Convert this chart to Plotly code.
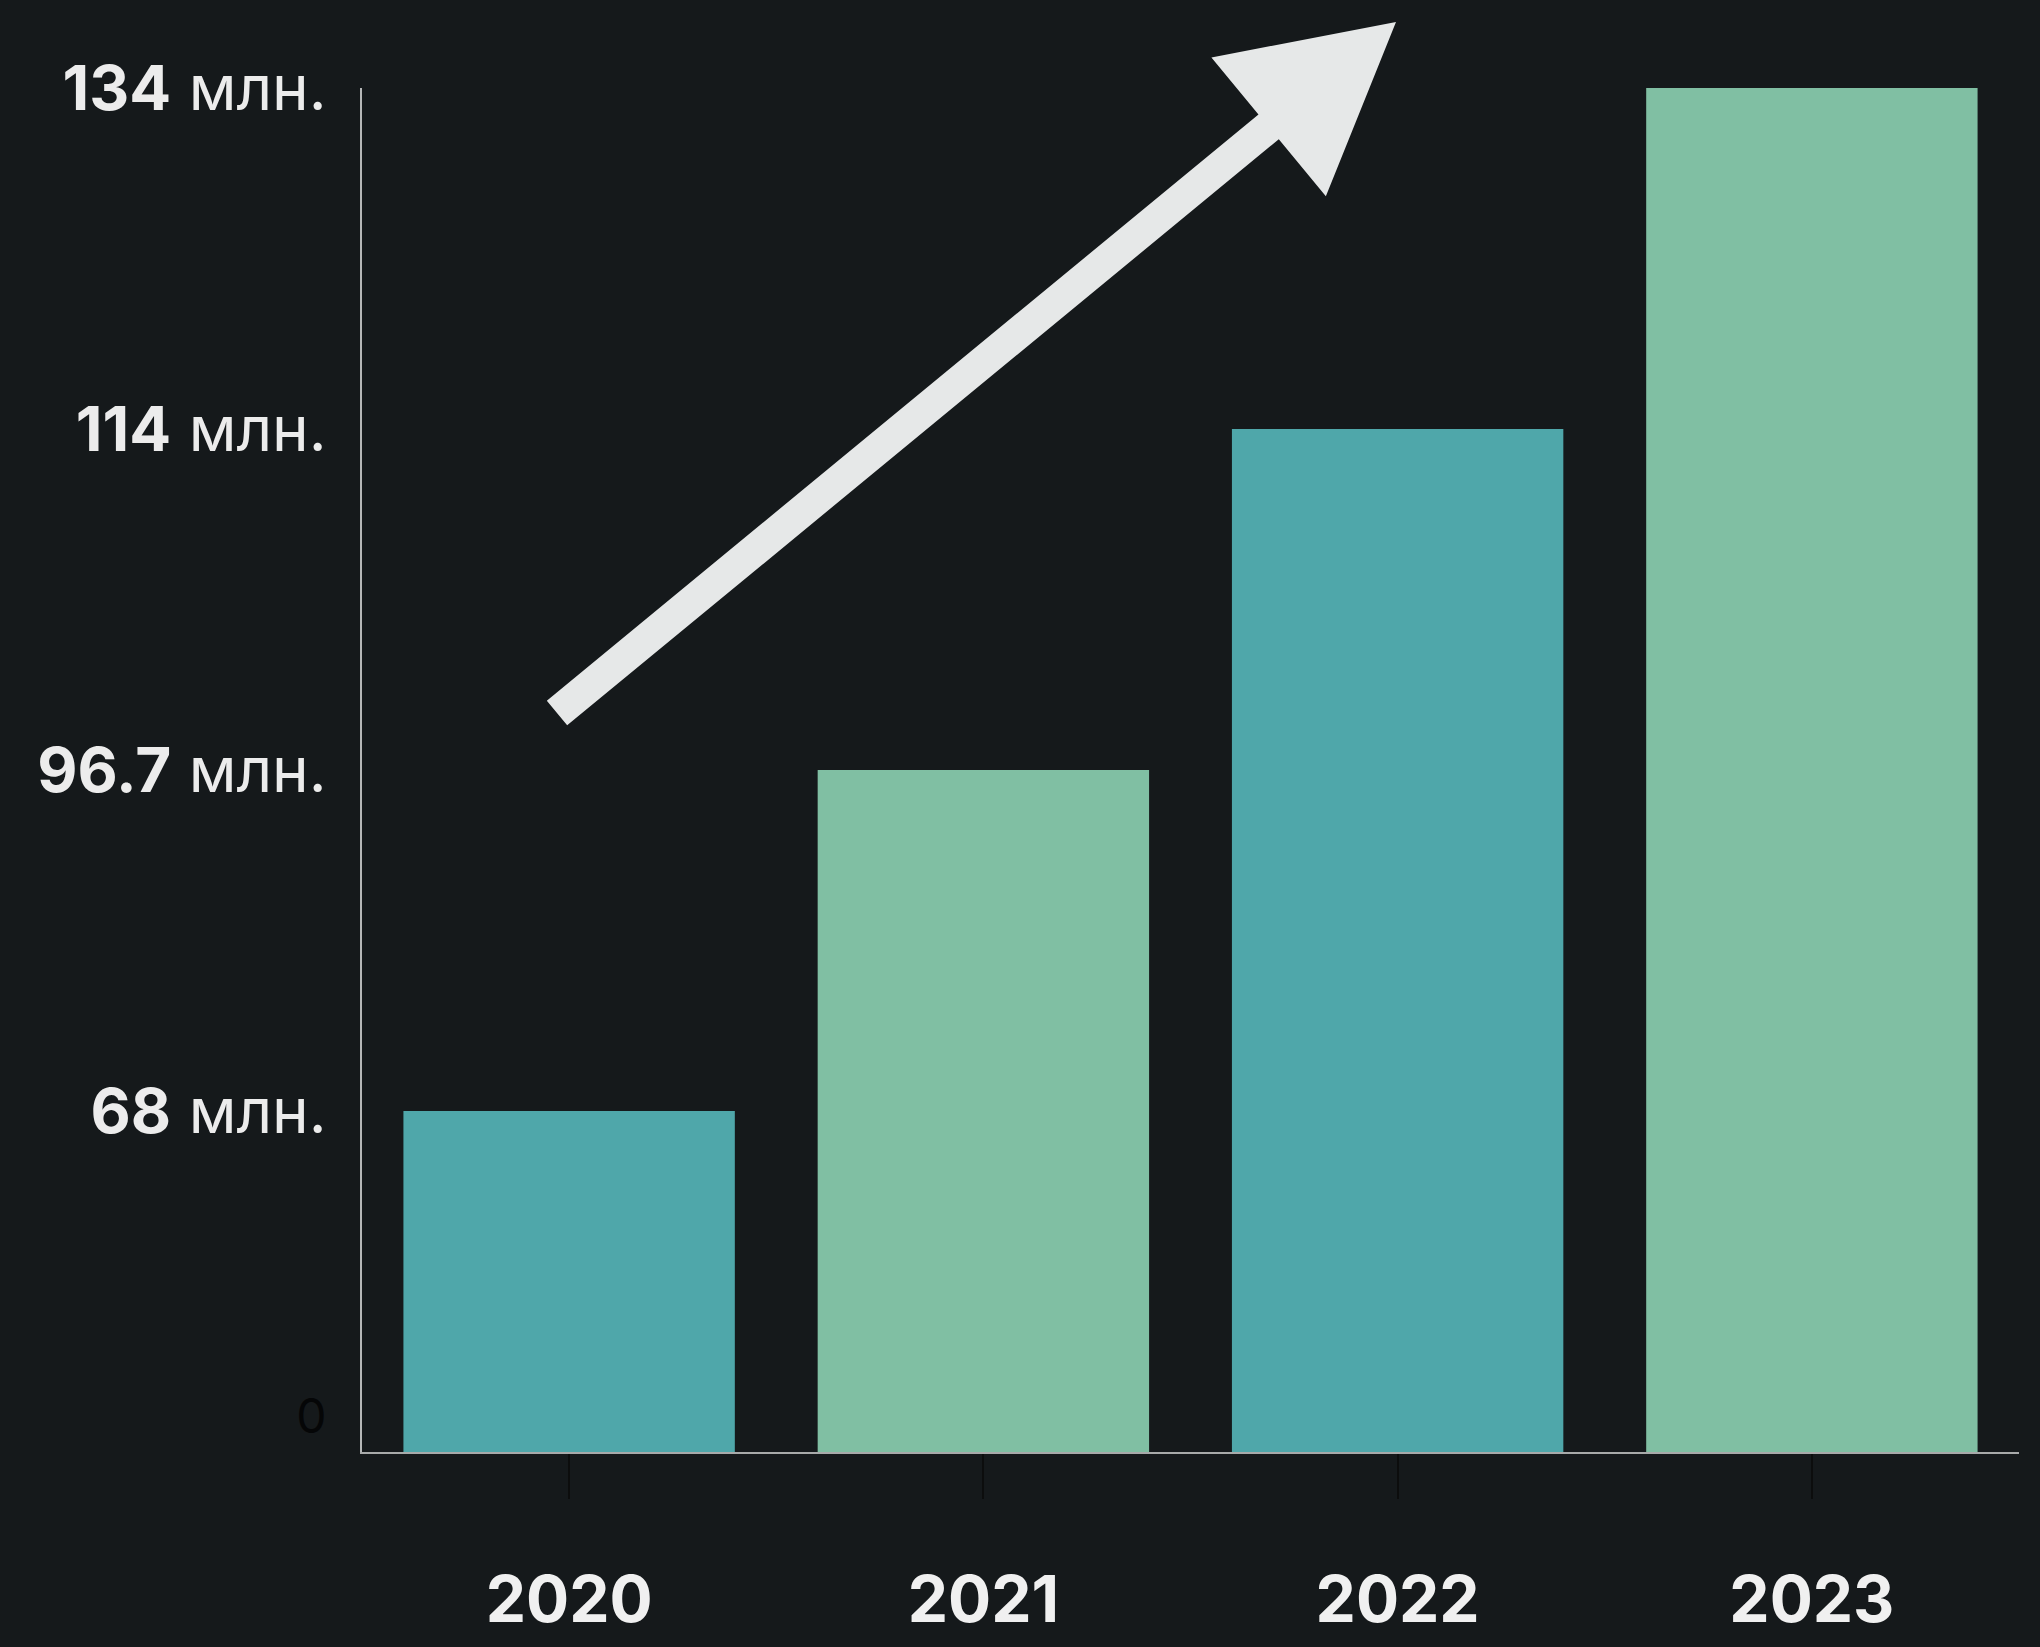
import math
import plotly.graph_objects as go

# ---- data ----
years = ["2020", "2021", "2022", "2023"]
values_mln = [68, 96.7, 114, 134]
bar_colors = ["#4fa7aa", "#80bfa3", "#4fa7aa", "#80bfa3"]
y_levels = ["0", "68", "96.7", "114", "134"]
y_ticktext = [
    "<span style='font-size:48px;color:#050607'>0</span><br><span style='font-size:22px;color:#15191b'>&nbsp;</span>",
    "<b>68</b> млн.",
    "<b>96.7</b> млн.",
    "<b>114</b> млн.",
    "<b>134</b> млн.",
]

W, H = 2040, 1647
ML, MR, MT, MB = 362, 21, 88, 195
PW, PH = W - ML - MR, H - MT - MB

y_cat = [f"{v:g}" for v in values_mln]

fig = go.Figure()
fig.add_trace(go.Bar(
    x=years, y=y_cat,
    marker=dict(color=bar_colors, line=dict(width=0)),
    width=0.8,
))

# arrow polygon (decoration) in pixel space -> paper
def to_paper(px, py):
    return ((px - ML) / PW, (H - MB - py) / PH)

tip = (1396, 22)
tail = (557, 713)
dx, dy = tip[0] - tail[0], tip[1] - tail[1]
d = math.hypot(dx, dy)
ux, uy = dx / d, dy / d
nx, ny = -uy, ux
L, HW, w = 165, 90, 16
bx, by = tip[0] - L * ux, tip[1] - L * uy
pts = [
    (tail[0] + w * nx, tail[1] + w * ny),
    (bx + w * nx, by + w * ny),
    (bx + HW * nx, by + HW * ny),
    tip,
    (bx - HW * nx, by - HW * ny),
    (bx - w * nx, by - w * ny),
    (tail[0] - w * nx, tail[1] - w * ny),
]
pp = [to_paper(*p) for p in pts]
path = "M " + " L ".join(f"{x:.5f},{y:.5f}" for x, y in pp) + " Z"
fig.add_shape(type="path", path=path, xref="paper", yref="paper",
              fillcolor="#e6e8e8", line=dict(width=0), layer="above")

fig.update_layout(
    width=W, height=H,
    margin=dict(l=ML, r=MR, t=MT, b=MB, pad=0, autoexpand=False),
    paper_bgcolor="#15191b",
    plot_bgcolor="#15191b",
    showlegend=False,
    bargap=0.2,
    font=dict(family="Inter, Liberation Sans, sans-serif", color="#ececec"),
    xaxis=dict(
        type="category",
        automargin=False,
        showgrid=False, zeroline=False,
        showline=True, linecolor="#a8aaaa", linewidth=2,
        ticks="outside", ticklen=45, tickwidth=2, tickcolor="#0c0d0d",
        tickfont=dict(size=64, color="#f0f0f0", family="Inter, sans-serif", weight="bold"),
        ticklabelstandoff=46,
    ),
    yaxis=dict(
        type="category",
        automargin=False,
        categoryorder="array", categoryarray=y_levels,
        range=[0, 4],
        showgrid=False, zeroline=False,
        showline=True, linecolor="#b5b7b7", linewidth=2,
        ticks="",
        tickmode="array", tickvals=y_levels, ticktext=y_ticktext,
        tickfont=dict(size=62, color="#ececec", family="Inter, sans-serif"),
        ticklabelstandoff=21,
    ),
)

fig.write_html(
    "out.html",
    config={"displayModeBar": False},
    post_script="document.body.style.margin='0';document.body.style.background='#15191b';",
)
